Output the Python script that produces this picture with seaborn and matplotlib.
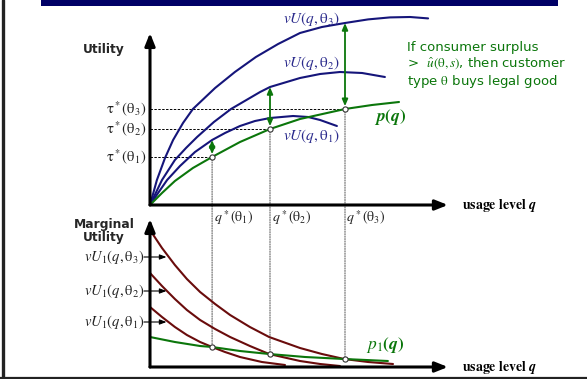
import matplotlib.pyplot as plt
from matplotlib.patches import ConnectionPatch, Rectangle
import numpy as np
import pandas as pd
import seaborn as sns

""" Settings """
sns.set_style("white")
plt.rcParams["font.family"] = ["DejaVu Sans"]
plt.rcParams["mathtext.fontset"] = "stix"

W, H = 587, 379
navy = "#15157a"
label_blue = "#2a2a8c"
green = "#0b760b"
maroon = "#6a0c0c"

""" Data read off the slide """
# top panel: utility vU(q, theta_i) and price schedule p(q)
q_u3 = [0, 0.23, 0.5, 0.77, 1.1, 1.43, 2.17, 2.83, 3.53, 4.27, 5.0, 5.73, 6.5, 7.27, 8.0, 8.67, 9.27]
u3 = [0, 1.25, 2.35, 3.25, 4.1, 4.8, 5.85, 6.65, 7.4, 8.05, 8.6, 8.9, 9.1, 9.28, 9.38, 9.4, 9.33]
q_u2 = [0, 0.4, 0.83, 1.2, 1.57, 2.13, 2.7, 3.67, 4.0, 5.0, 5.67, 6.33, 7.07, 7.83]
u2 = [0, 1.25, 2.25, 2.85, 3.4, 4.15, 4.8, 5.65, 5.9, 6.35, 6.55, 6.65, 6.6, 6.4]
q_u1 = [0, 0.27, 0.57, 1.0, 1.5, 2.07, 2.5, 3.0, 3.5, 4.0, 4.77, 5.27, 5.67, 6.23]
u1 = [0, 0.6, 1.25, 1.95, 2.65, 3.25, 3.6, 3.95, 4.2, 4.35, 4.45, 4.4, 4.25, 3.95]
q_p = [0, 0.4, 0.83, 1.43, 2.07, 3.0, 4.0, 5.0, 6.5, 7.4, 8.3]
p = [0, 0.6, 1.2, 1.85, 2.4, 3.15, 3.8, 4.3, 4.8, 5.0, 5.15]

q_star = [2.07, 4.0, 6.5]
tau_star = [2.4, 3.8, 4.8]
u_at_qstar = [3.25, 5.9, 9.1]

# bottom panel: marginal utility vU1(q, theta_i) and marginal price p1(q)
q_m3 = [0, 0.4, 0.83, 1.23, 1.67, 2.17, 2.67, 3.33, 3.97, 5.0, 5.73, 6.47, 7.27, 8.1]
m3 = [6.85, 5.95, 5.1, 4.4, 3.75, 3.15, 2.6, 2.0, 1.5, 0.95, 0.65, 0.4, 0.25, 0.15]
q_m2 = [0, 0.4, 0.83, 1.23, 1.67, 2.17, 2.67, 3.33, 3.97, 5.0, 5.67, 6.33]
m2 = [4.7, 4.05, 3.4, 2.85, 2.35, 1.9, 1.5, 1.05, 0.65, 0.3, 0.15, 0.05]
q_m1 = [0, 0.4, 0.83, 1.23, 1.67, 2.07, 2.5, 3.0, 3.73, 4.5]
m1 = [3.0, 2.5, 2.0, 1.6, 1.25, 1.0, 0.75, 0.5, 0.25, 0.1]
q_p1 = [0, 0.83, 1.67, 2.07, 3.0, 3.97, 5.17, 6.47, 7.93]
p1 = [1.5, 1.25, 1.05, 1.0, 0.8, 0.65, 0.5, 0.4, 0.3]
p1_at_qstar = [1.0, 0.65, 0.4]
mu_label_y = [2.25, 3.8, 5.5]

theta_idx = ["1", "2", "3"]
TH = r"\mathrm{\theta}"


def fig_xy(px, py):
    return px / W, 1 - py / H


fig = plt.figure(figsize=(W / 100, H / 100), dpi=100)

# background decorations (frame + title bar), pixel coordinates
bg = fig.add_axes([0, 0, 1, 1], zorder=0)
bg.set_xlim(0, W)
bg.set_ylim(H, 0)
bg.axis("off")
bg.add_patch(Rectangle((41, 0), 517, 6, color="#000066", lw=0))
bg.plot([3, 3], [0, 377], color="#222222", lw=2.4)
bg.plot([0, W], [377.5, 377.5], color="#222222", lw=1.6)

ax_top = fig.add_axes([150 / W, (H - 205) / H, 300 / W, 200 / H], zorder=2)
ax_bot = fig.add_axes([150 / W, (H - 367) / H, 300 / W, 150 / H], zorder=2)
ax_top.set(xlim=(0, 10), ylim=(0, 10))
ax_bot.set(xlim=(0, 10), ylim=(0, 7.5))
for ax in (ax_top, ax_bot):
    ax.axis("off")
    ax.patch.set_alpha(0)

# axis arrows
arrow_kw = dict(arrowstyle="-|>,head_length=0.75,head_width=0.3", color="black",
                lw=2.2, shrinkA=0, shrinkB=0)
ax_top.annotate("", xy=(9.93, 0), xytext=(0, 0), arrowprops=arrow_kw)
ax_top.annotate("", xy=(0, 8.6), xytext=(0, 0), arrowprops=arrow_kw)
ax_bot.annotate("", xy=(9.93, 0), xytext=(0, 0), arrowprops=arrow_kw)
ax_bot.annotate("", xy=(0, 7.4), xytext=(0, 0), arrowprops=arrow_kw)

# top curves
for qq, uu in [(q_u3, u3), (q_u2, u2), (q_u1, u1)]:
    sns.lineplot(x=qq, y=uu, ax=ax_top, color=navy, lw=1.5)
sns.lineplot(x=q_p, y=p, ax=ax_top, color=green, lw=1.5)

# bottom curves
for qq, mm in [(q_m3, m3), (q_m2, m2), (q_m1, m1)]:
    sns.lineplot(x=qq, y=mm, ax=ax_bot, color=maroon, lw=1.5)
sns.lineplot(x=q_p1, y=p1, ax=ax_bot, color=green, lw=1.5)

for i in range(3):
    qs, ts = q_star[i], tau_star[i]
    # dashed price level
    ax_top.plot([0, qs], [ts, ts], color="black", lw=0.7, ls=(0, (2.5, 1.5)), zorder=1)
    ax_top.text(-0.12, ts, r"$\mathrm{\tau}^*(%s_%s)$" % (TH, theta_idx[i]), ha="right",
                va="center", fontsize=10.5, color="#222222")
    # surplus arrow
    ax_top.annotate("", xy=(qs, u_at_qstar[i]), xytext=(qs, ts),
                    arrowprops=dict(arrowstyle="<|-|>,head_length=0.4,head_width=0.17",
                                    color=green, lw=1.3, shrinkA=2, shrinkB=0))
    # dotted link between panels
    con = ConnectionPatch(xyA=(qs, ts), coordsA=ax_top.transData,
                          xyB=(qs, p1_at_qstar[i]), coordsB=ax_bot.transData,
                          color="#666666", lw=0.8, ls=(0, (1, 1.2)), zorder=1)
    fig.add_artist(con)
    ax_top.text(qs + 0.05, -0.65, r"$q^*(%s_%s)$" % (TH, theta_idx[i]), ha="left",
                va="center", fontsize=10, color="#222222")
    # marginal utility labels
    ax_bot.text(-0.2, mu_label_y[i], r"$vU_1(q,%s_%s)$" % (TH, theta_idx[i]), ha="right",
                va="center", fontsize=10.5, color="#222222")
    ax_bot.annotate("", xy=(0.55, mu_label_y[i]), xytext=(-0.2, mu_label_y[i]),
                    arrowprops=dict(arrowstyle="-|>,head_length=0.4,head_width=0.15",
                                    color="black", lw=0.8, shrinkA=0, shrinkB=0))

ax_top.scatter(q_star, tau_star, s=14, facecolor="white", edgecolor="#333333",
               lw=0.8, zorder=5)
ax_bot.scatter(q_star, p1_at_qstar, s=14, facecolor="white", edgecolor="#333333",
               lw=0.8, zorder=5)

# curve labels
for lab_y, i in zip([9.3, 7.1, 3.45], ["3", "2", "1"]):
    ax_top.text(4.43, lab_y, r"$vU(q,%s_%s)$" % (TH, i), ha="left", va="center",
                fontsize=11, color=label_blue)
ax_top.text(7.47, 4.4, r"$\boldsymbol{p(q)}$", ha="left", va="center",
            fontsize=12.5, color=green)
ax_bot.text(7.2, 1.1, r"$\boldsymbol{p_1(q)}$", ha="left", va="center",
            fontsize=12.5, color=green)

for ax in (ax_top, ax_bot):
    ax.text(10.4, 0, r"$\mathbf{usage\ level}\ \boldsymbol{q}$", ha="left",
            va="center", fontsize=10, color="black")

fig.text(*fig_xy(104, 49), "Utility", ha="center", va="center", fontsize=8.8,
         fontweight="bold")
fig.text(*fig_xy(104, 231), "Marginal\nUtility", ha="center", va="center",
         fontsize=8.8, fontweight="bold", linespacing=1.0)

green_lines = ["If consumer surplus",
               r">  $\hat{u}(%s,s)$, then customer" % TH,
               r"type $%s$ buys legal good" % TH]
for line, py in zip(green_lines, [48, 64, 81]):
    fig.text(*fig_xy(407, py), line, ha="left", va="center", fontsize=9.5,
             color=green)

plt.savefig("out.png", dpi=100)
